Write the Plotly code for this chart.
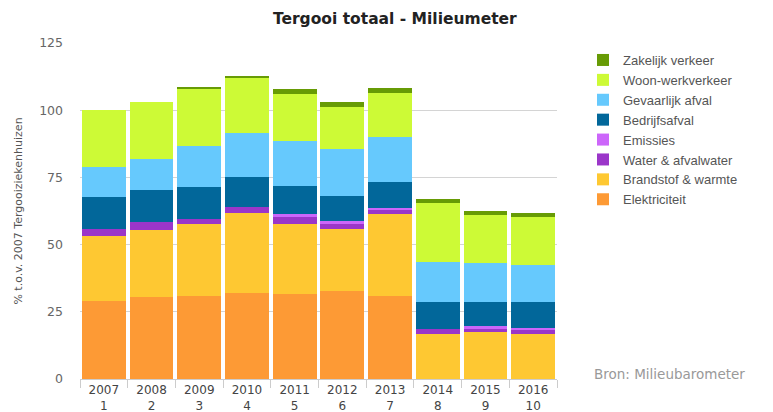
import plotly.graph_objects as go

# Jaren en volgnummers op de x-as
jaren = ['2007', '2008', '2009', '2010', '2011', '2012', '2013', '2014', '2015', '2016']
nummers = ['1', '2', '3', '4', '5', '6', '7', '8', '9', '10']

# Waarden in % t.o.v. 2007
elektriciteit = [28.9, 30.5, 30.9, 31.9, 31.5, 32.6, 30.9, 0, 0, 0]
brandstof = [24.3, 25.0, 26.8, 29.7, 26.2, 23.3, 30.4, 16.6, 17.4, 16.6]
water = [2.5, 2.9, 1.8, 2.5, 2.7, 1.9, 1.9, 1.9, 1.3, 1.9]
emissies = [0, 0, 0, 0, 0.9, 1.0, 0.3, 0, 0.9, 0.5]
bedrijfsafval = [11.9, 11.9, 11.8, 11.0, 10.4, 9.4, 9.8, 10.0, 8.9, 9.8]
gevaarlijk = [11.4, 11.6, 15.5, 16.4, 17.0, 17.2, 16.8, 15.1, 14.5, 13.6]
woonwerk = [21.0, 21.3, 21.2, 20.6, 17.3, 15.9, 16.2, 21.9, 17.9, 17.8]
zakelijk = [0, 0, 0.3, 0.4, 2.0, 1.7, 2.0, 1.3, 1.7, 1.4]

reeksen = [
    ('Elektriciteit', elektriciteit, '#fd9a35'),
    ('Brandstof & warmte', brandstof, '#fec832'),
    ('Water & afvalwater', water, '#9b36c9'),
    ('Emissies', emissies, '#cc66fa'),
    ('Bedrijfsafval', bedrijfsafval, '#02679a'),
    ('Gevaarlijk afval', gevaarlijk, '#66c9fd'),
    ('Woon-werkverkeer', woonwerk, '#cdfa36'),
    ('Zakelijk verkeer', zakelijk, '#679b05'),
]

x_labels = [j + '<br>' + n for j, n in zip(jaren, nummers)]

fig = go.Figure()
for naam, waarden, kleur in reeksen:
    fig.add_trace(go.Bar(
        name=naam,
        x=x_labels,
        y=waarden,
        marker=dict(color=kleur, line=dict(width=0)),
    ))

fig.update_layout(
    width=773, height=412,
    plot_bgcolor='white',
    paper_bgcolor='white',
    barmode='stack',
    bargap=0.08,
    font=dict(family='DejaVu Sans, sans-serif', size=12, color='#555'),
    title=dict(text='<b>Tergooi totaal - Milieumeter</b>', x=0.66, xref='paper', xanchor='center',
               yref='container', y=0.956, yanchor='middle',
               font=dict(family='DejaVu Sans, sans-serif', size=15.5, color='#222')),
    margin=dict(l=80, r=216, t=43, b=33),
    legend=dict(
        traceorder='reversed',
        x=1.0545, xanchor='left',
        y=0.994, yanchor='top',
        font=dict(family='Liberation Sans, Arial, sans-serif', size=13, color='#555'),
        bgcolor='rgba(0,0,0,0)',
    ),
    showlegend=True,
)

fig.update_yaxes(
    range=[0, 125],
    tickvals=[0, 25, 50, 75, 100, 125],
    showgrid=True, gridcolor='#d4d4d4', gridwidth=1,
    zeroline=False,
    showline=False,
    ticks='',
    automargin=False,
    ticklabelstandoff=16,
    tickfont=dict(size=12.5, color='#666'),
    title=dict(text='% t.o.v. 2007 Tergooiziekenhuizen', font=dict(size=11, color='#555'), standoff=14),
)

fig.update_xaxes(
    showline=True, linecolor='#cccccc',
    ticks='outside', tickson='boundaries', ticklen=8, tickcolor='#cccccc',
    automargin=False,
    tickfont=dict(size=12, color='#444'),
)

fig.add_annotation(
    text='Bron: Milieubarometer',
    xref='paper', yref='y', x=1.073, y=2, xanchor='left', yanchor='middle',
    showarrow=False, font=dict(size=13.5, color='#999'),
)

# geen standaard body-marge van de browser, geen modebar
fig.write_html('out.html', config={'displayModeBar': False},
               post_script="document.body.style.margin='0';")
